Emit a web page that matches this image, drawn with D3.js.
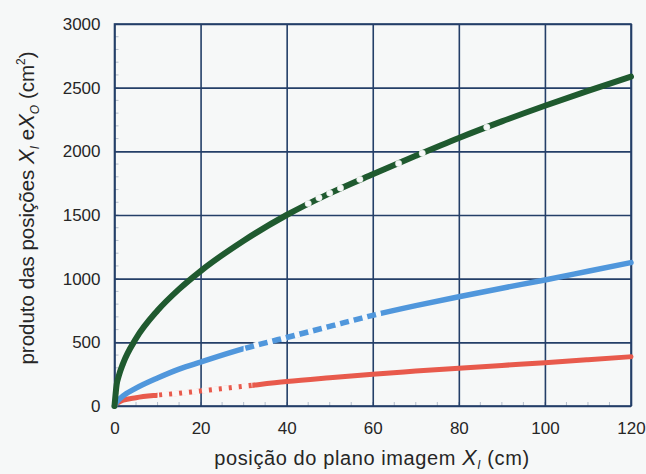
<!DOCTYPE html>
<html><head><meta charset="utf-8">
<script src="https://cdn.jsdelivr.net/npm/d3@7"></script>
<style>
html,body{margin:0;padding:0;background:#f6f8f8;}
svg{display:block;}
text{font-family:"Liberation Sans",Arial,sans-serif;fill:#262626;}
</style></head>
<body>
<svg id="c" width="646" height="474"></svg>
<script>
// ---- data ----
const xPos   = [0, 0.5, 1, 2, 5, 10, 15, 20, 30, 40, 50, 60, 70, 80, 90, 100, 110, 120];
const green  = [0, 168, 237, 335, 530, 750, 918, 1060, 1298, 1500, 1670, 1820, 1965, 2105, 2235, 2358, 2475, 2587];
const blue   = [0, 30, 50, 80, 140, 220, 290, 345, 450, 538, 625, 712, 788, 858, 925, 990, 1058, 1126];
const red    = [0, 20, 30, 45, 65, 85, 100, 118, 155, 192, 222, 250, 274, 297, 319, 340, 363, 387];
// white measurement marks lying on the green curve
const greenMarkX = [45, 47.5, 50, 52.5, 57, 66, 71.5, 86.5];
const greenMarkY = [1590, 1635, 1672, 1712, 1780, 1905, 1985, 2190];
// x ranges where the blue and red curves are broken by white marks
const blueMarkRange = [30, 62];
const redMarkRange  = [10, 32];
const xTicks = [0, 20, 40, 60, 80, 100, 120];
const yTicks = [0, 500, 1000, 1500, 2000, 2500, 3000];

const svg = d3.select("#c");
const L = 114.5, R = 631, T = 24, B = 406;
const x = d3.scaleLinear().domain([0, 120]).range([L, R]);
const y = d3.scaleLinear().domain([0, 3000]).range([B, T]);
const gridColor = "#243f68";

// minor ticks (faint)
const g0 = svg.append("g");
d3.range(0, 121, 5).forEach(v => {
  g0.append("line").attr("x1", x(v)).attr("x2", x(v)).attr("y1", B).attr("y2", B - 4)
    .attr("stroke", "#a3afc0").attr("stroke-width", 0.8);
});
d3.range(0, 3001, 100).forEach(v => {
  g0.append("line").attr("x1", L).attr("x2", L + 4).attr("y1", y(v)).attr("y2", y(v))
    .attr("stroke", "#a3afc0").attr("stroke-width", 0.8);
});

// grid
const grid = svg.append("g");
grid.append("g").attr("transform", `translate(0,${B})`)
  .call(d3.axisBottom(x).tickValues(xTicks).tickSize(-(B - T)).tickFormat(""))
  .call(g => g.select(".domain").remove())
  .call(g => g.selectAll("line").attr("stroke", gridColor).attr("stroke-width", 1.6));
grid.append("g").attr("transform", `translate(${L},0)`)
  .call(d3.axisLeft(y).tickValues(yTicks).tickSize(-(R - L)).tickFormat(""))
  .call(g => g.select(".domain").remove())
  .call(g => g.selectAll("line").attr("stroke", gridColor).attr("stroke-width", 1.6));
svg.append("rect").attr("x", L).attr("y", T).attr("width", R - L).attr("height", B - T)
  .attr("fill", "none").attr("stroke", gridColor).attr("stroke-width", 1.6);

// tick labels
const fmt = d3.format("d");
const ax = svg.append("g").attr("transform", `translate(0,${B})`)
  .call(d3.axisBottom(x).tickValues(xTicks).tickSize(0).tickPadding(16).tickFormat(fmt));
ax.select(".domain").remove();
ax.selectAll("text").attr("font-size", 17).attr("fill", "#262626")
  .attr("font-family", "Liberation Sans, Arial, sans-serif");
const ay = svg.append("g").attr("transform", `translate(${L},0)`)
  .call(d3.axisLeft(y).tickValues(yTicks).tickSize(0).tickPadding(14).tickFormat(fmt));
ay.select(".domain").remove();
ay.selectAll("text").attr("font-size", 17).attr("fill", "#262626")
  .attr("font-family", "Liberation Sans, Arial, sans-serif");

// curves
const pts = s => xPos.map((v, i) => [v, s[i]]);
const line = d3.line().x(d => x(d[0])).y(d => y(d[1])).curve(d3.curveMonotoneX);
const defs = svg.append("defs");
function clipFor(id, r) {
  defs.append("clipPath").attr("id", id).append("rect")
    .attr("x", x(r[0])).attr("width", x(r[1]) - x(r[0])).attr("y", 0).attr("height", 474);
}
clipFor("clipBlue", blueMarkRange);
clipFor("clipRed", redMarkRange);

svg.append("path").attr("d", line(pts(red))).attr("fill", "none")
  .attr("stroke", "#e85a4c").attr("stroke-width", 5).attr("stroke-linecap", "round");
svg.append("path").attr("d", line(pts(red))).attr("fill", "none").attr("clip-path", "url(#clipRed)")
  .attr("stroke", "#fbf6f5").attr("stroke-width", 6).attr("stroke-dasharray", "7,3");

svg.append("path").attr("d", line(pts(blue))).attr("fill", "none")
  .attr("stroke", "#5097dc").attr("stroke-width", 5.5).attr("stroke-linecap", "round");
svg.append("path").attr("d", line(pts(blue))).attr("fill", "none").attr("clip-path", "url(#clipBlue)")
  .attr("stroke", "#f6f9fb").attr("stroke-width", 6.5).attr("stroke-dasharray", "5,9");

svg.append("path").attr("d", line(pts(green))).attr("fill", "none")
  .attr("stroke", "#1f5a2f").attr("stroke-width", 6).attr("stroke-linecap", "round");
svg.append("g").selectAll("circle").data(greenMarkX).join("circle")
  .attr("cx", d => x(d)).attr("cy", (d, i) => y(greenMarkY[i]))
  .attr("r", 3.2).attr("fill", "#f6f8f8").attr("stroke", "#dfe6df").attr("stroke-width", 0.5);

// axis titles
const xt = svg.append("text").attr("x", 372).attr("y", 465).attr("text-anchor", "middle")
  .attr("font-size", 20).attr("letter-spacing", 0.6);
xt.append("tspan").text("posição do plano imagem ");
xt.append("tspan").attr("font-style", "italic").attr("font-size", 21.5).text("X");
xt.append("tspan").attr("font-size", 12).attr("dy", 4).attr("font-style", "italic").text("I");
xt.append("tspan").attr("dy", -4).text(" (cm)");

const yt = svg.append("text").attr("transform", "translate(34,208) rotate(-90)")
  .attr("text-anchor", "middle").attr("font-size", 20.5);
yt.append("tspan").text("produto das posições ");
yt.append("tspan").attr("font-style", "italic").attr("font-size", 22).text("X");
yt.append("tspan").attr("font-size", 12).attr("dy", 5).attr("font-style", "italic").text("I");
yt.append("tspan").attr("dy", -5).text(" e");
yt.append("tspan").attr("font-style", "italic").attr("font-size", 22).text("X");
yt.append("tspan").attr("font-size", 12).attr("dy", 5).attr("font-style", "italic").text("O");
yt.append("tspan").attr("dy", -5).text(" (cm");
yt.append("tspan").attr("font-size", 12).attr("dy", -9).text("2");
yt.append("tspan").attr("dy", 9).text(")");
</script>
</body></html>
